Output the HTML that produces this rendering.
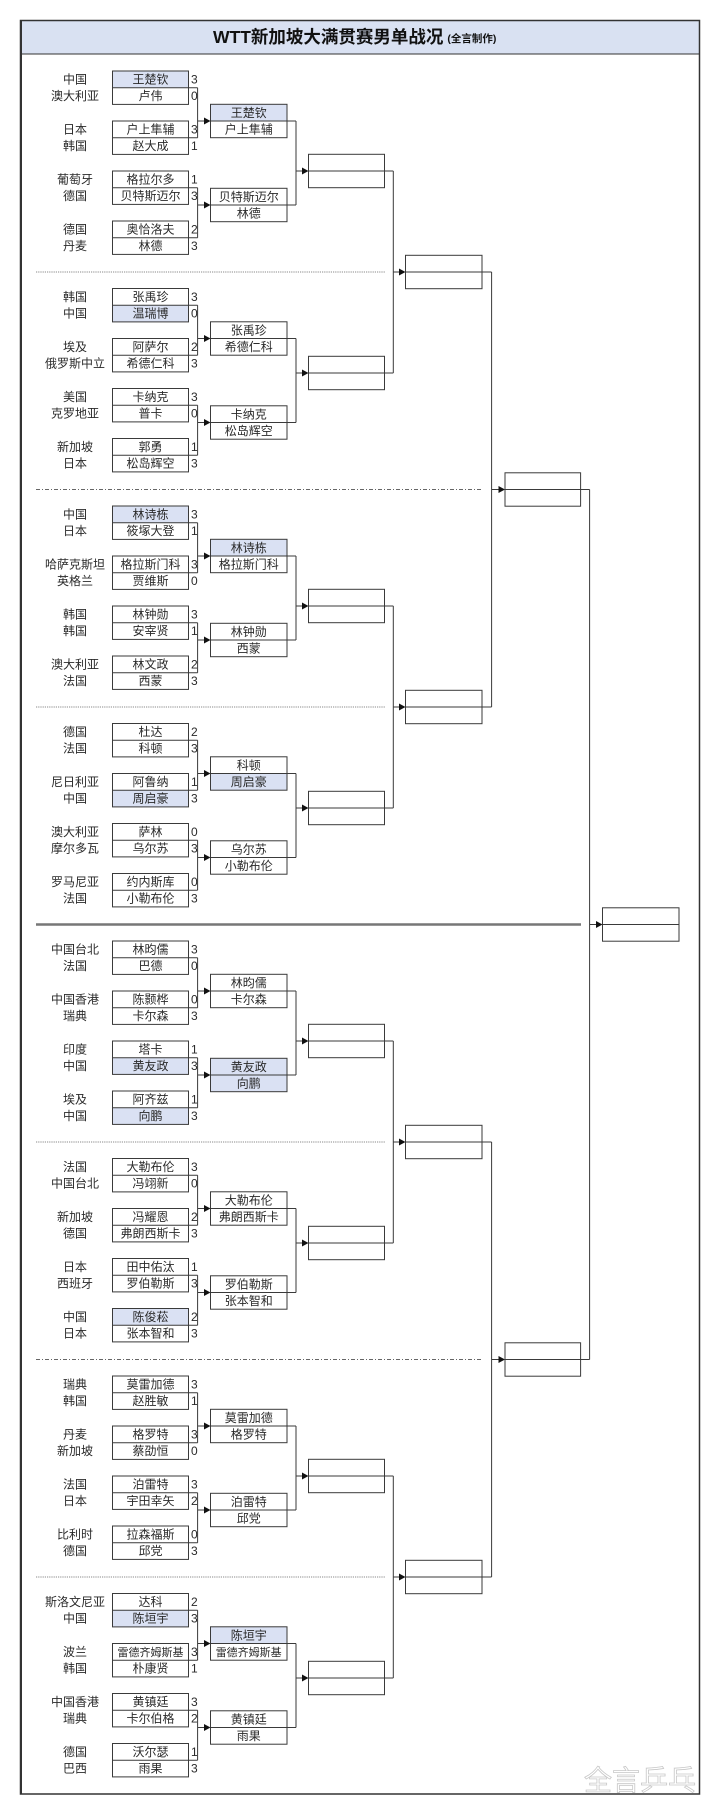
<!DOCTYPE html>
<html><head><meta charset="utf-8">
<style>
html,body{margin:0;padding:0;background:#fff;width:720px;height:1814px;overflow:hidden}
svg{display:block}
text{font-family:"Liberation Sans","Noto Sans CJK SC",sans-serif;font-size:12px;fill:#2a2a2a}
.c{text-anchor:middle}
.n{text-anchor:middle}
.s{text-anchor:start}
</style></head><body>
<svg width="720" height="1814" viewBox="0 0 720 1814" xmlns="http://www.w3.org/2000/svg">
<defs>
<g id="T">
 <g fill="none" stroke="#3a3a3a" stroke-width="1">
  <rect x="112.5" y="0" width="76" height="33.4"/>
  <rect x="112.5" y="50" width="76" height="33.4"/>
  <rect x="112.5" y="100" width="76" height="33.4"/>
  <rect x="112.5" y="150" width="76" height="33.4"/>
  <path d="M112.5 16.7H197.6M112.5 66.7H197.6M112.5 116.7H197.6M112.5 166.7H197.6M197.6 16.7V66.7M197.6 116.7V166.7M197.6 50H205M197.6 134H205"/>
  <rect x="210.5" y="33.3" width="76.5" height="33.4"/>
  <rect x="210.5" y="117.3" width="76.5" height="33.4"/>
  <path d="M210.5 50H296M210.5 134H296M296 50V134"/>
 </g>
 <polygon fill="#111" points="204,46.5 210.5,50 204,53.5"/>
 <polygon fill="#111" points="204,130.5 210.5,134 204,137.5"/>
</g>
<g id="RA">
 <g fill="none" stroke="#3a3a3a" stroke-width="1">
  <path d="M296 100H303M308.5 100H393.3"/>
  <rect x="308.5" y="83.3" width="76" height="33.4"/>
 </g>
 <polygon fill="#111" points="302,96.5 308.5,100 302,103.5"/>
</g>
<g id="RB">
 <g fill="none" stroke="#3a3a3a" stroke-width="1">
  <path d="M296 84.5H303M308.5 84.5H393.3"/>
  <rect x="308.5" y="67.8" width="76" height="33.4"/>
 </g>
 <polygon fill="#111" points="302,81 308.5,84.5 302,88"/>
</g>
</defs>

<rect x="20" y="20" width="680" height="34" fill="#d9e1f2"/>
<rect x="20.5" y="20.5" width="679" height="1773.5" fill="none" stroke="#333" stroke-width="1.5"/>
<line x1="20" y1="54" x2="700" y2="54" stroke="#333" stroke-width="1"/>
<line x1="21" y1="20" x2="21" y2="1794" stroke="#333" stroke-width="2"/>
<text x="213" y="43" style="font-size:17.5px;font-weight:bold;fill:#111">WTT新加坡大满贯赛男单战况<tspan style="font-size:10.5px;font-weight:bold" dx="4" dy="-1">(全言制作)</tspan></text>

<g fill="none">
<line x1="36" y1="272" x2="385" y2="272" stroke="#888" stroke-dasharray="1.2,1"/>
<line x1="36" y1="489.5" x2="483" y2="489.5" stroke="#666" stroke-dasharray="4,2,1,2"/>
<line x1="36" y1="707" x2="385" y2="707" stroke="#888" stroke-dasharray="1.2,1"/>
<line x1="36" y1="924.5" x2="581" y2="924.5" stroke="#777" stroke-width="2.5"/>
<line x1="36" y1="1142" x2="385" y2="1142" stroke="#888" stroke-dasharray="1.2,1"/>
<line x1="36" y1="1359.5" x2="483" y2="1359.5" stroke="#666" stroke-dasharray="4,2,1,2"/>
<line x1="36" y1="1577" x2="385" y2="1577" stroke="#888" stroke-dasharray="1.2,1"/>
</g>

<g fill="#dae1f3">
<rect x="112.5" y="71" width="76" height="16.7"/><rect x="210.5" y="104.3" width="76.5" height="16.7"/>
<rect x="112.5" y="305.2" width="76" height="16.7"/>
<rect x="112.5" y="506" width="76" height="16.7"/><rect x="210.5" y="539.3" width="76.5" height="16.7"/>
<rect x="112.5" y="790.2" width="76" height="16.7"/><rect x="210.5" y="773.5" width="76.5" height="16.7"/>
<rect x="112.5" y="1057.7" width="76" height="16.7"/><rect x="112.5" y="1107.7" width="76" height="16.7"/><rect x="210.5" y="1058.3" width="76.5" height="33.4"/>
<rect x="112.5" y="1308.5" width="76" height="16.7"/>
<rect x="112.5" y="1610.2" width="76" height="16.7"/><rect x="210.5" y="1626.8" width="76.5" height="16.7"/>
</g>

<use href="#T" transform="translate(0,71)"/><use href="#RA" transform="translate(0,71)"/>
<use href="#T" transform="translate(0,288.5)"/><use href="#RB" transform="translate(0,288.5)"/>
<use href="#T" transform="translate(0,506)"/><use href="#RA" transform="translate(0,506)"/>
<use href="#T" transform="translate(0,723.5)"/><use href="#RB" transform="translate(0,723.5)"/>
<use href="#T" transform="translate(0,941)"/><use href="#RA" transform="translate(0,941)"/>
<use href="#T" transform="translate(0,1158.5)"/><use href="#RB" transform="translate(0,1158.5)"/>
<use href="#T" transform="translate(0,1376)"/><use href="#RA" transform="translate(0,1376)"/>
<use href="#T" transform="translate(0,1593.5)"/><use href="#RB" transform="translate(0,1593.5)"/>

<g fill="none" stroke="#3a3a3a" stroke-width="1">
 <path d="M393.3 171V373M393.3 272H399M393.3 606V808M393.3 707H399M393.3 1041V1243M393.3 1142H399M393.3 1476V1678M393.3 1577H399"/>
 <rect x="405.5" y="255.3" width="76.5" height="33.4"/>
 <rect x="405.5" y="690.3" width="76.5" height="33.4"/>
 <rect x="405.5" y="1125.3" width="76.5" height="33.4"/>
 <rect x="405.5" y="1560.3" width="76.5" height="33.4"/>
 <path d="M405.5 272H491.6M405.5 707H491.6M405.5 1142H491.6M405.5 1577H491.6M491.6 272V707M491.6 1142V1577M491.6 489.5H499M491.6 1359.5H499"/>
 <rect x="505" y="472.8" width="75.6" height="33.4"/>
 <rect x="505" y="1342.8" width="75.6" height="33.4"/>
 <path d="M505 489.5H589.6M505 1359.5H589.6M589.6 489.5V1359.5M589.6 924.5H596"/>
 <rect x="602.5" y="907.8" width="76.5" height="33.4"/>
 <path d="M602.5 924.5H679"/>
</g>
<g fill="#111">
 <polygon points="399,268.5 405.5,272 399,275.5"/>
 <polygon points="399,703.5 405.5,707 399,710.5"/>
 <polygon points="399,1138.5 405.5,1142 399,1145.5"/>
 <polygon points="399,1573.5 405.5,1577 399,1580.5"/>
 <polygon points="498.5,486 505,489.5 498.5,493"/>
 <polygon points="498.5,1356 505,1359.5 498.5,1363"/>
 <polygon points="596,921 602.5,924.5 596,928"/>
</g>

<g transform="translate(0,71)">
<text class="c" x="75" y="12.5">中国</text><text class="c" x="75" y="29.2">澳大利亚</text><text class="c" x="75" y="62.5">日本</text><text class="c" x="75" y="79.2">韩国</text><text class="c" x="75" y="112.5">葡萄牙</text><text class="c" x="75" y="129.2">德国</text><text class="c" x="75" y="162.5">德国</text><text class="c" x="75" y="179.2">丹麦</text>
<text class="n" x="150.5" y="12.5">王楚钦</text><text class="n" x="150.5" y="29.2">卢伟</text><text class="n" x="150.5" y="62.5">户上隼辅</text><text class="n" x="150.5" y="79.2">赵大成</text><text class="n" x="150.5" y="112.5">格拉尔多</text><text class="n" x="150.5" y="129.2">贝特斯迈尔</text><text class="n" x="150.5" y="162.5">奥恰洛夫</text><text class="n" x="150.5" y="179.2">林德</text>
<text class="s" x="191" y="12.5">3</text><text class="s" x="191" y="29.2">0</text><text class="s" x="191" y="62.5">3</text><text class="s" x="191" y="79.2">1</text><text class="s" x="191" y="112.5">1</text><text class="s" x="191" y="129.2">3</text><text class="s" x="191" y="162.5">2</text><text class="s" x="191" y="179.2">3</text>
<text class="n" x="248.7" y="45.8">王楚钦</text><text class="n" x="248.7" y="62.5">户上隼辅</text><text class="n" x="248.7" y="129.8">贝特斯迈尔</text><text class="n" x="248.7" y="146.5">林德</text>
</g>
<g transform="translate(0,288.5)">
<text class="c" x="75" y="12.5">韩国</text><text class="c" x="75" y="29.2">中国</text><text class="c" x="75" y="62.5">埃及</text><text class="c" x="75" y="79.2">俄罗斯中立</text><text class="c" x="75" y="112.5">美国</text><text class="c" x="75" y="129.2">克罗地亚</text><text class="c" x="75" y="162.5">新加坡</text><text class="c" x="75" y="179.2">日本</text>
<text class="n" x="150.5" y="12.5">张禹珍</text><text class="n" x="150.5" y="29.2">温瑞博</text><text class="n" x="150.5" y="62.5">阿萨尔</text><text class="n" x="150.5" y="79.2">希德仁科</text><text class="n" x="150.5" y="112.5">卡纳克</text><text class="n" x="150.5" y="129.2">普卡</text><text class="n" x="150.5" y="162.5">郭勇</text><text class="n" x="150.5" y="179.2">松岛辉空</text>
<text class="s" x="191" y="12.5">3</text><text class="s" x="191" y="29.2">0</text><text class="s" x="191" y="62.5">2</text><text class="s" x="191" y="79.2">3</text><text class="s" x="191" y="112.5">3</text><text class="s" x="191" y="129.2">0</text><text class="s" x="191" y="162.5">1</text><text class="s" x="191" y="179.2">3</text>
<text class="n" x="248.7" y="45.8">张禹珍</text><text class="n" x="248.7" y="62.5">希德仁科</text><text class="n" x="248.7" y="129.8">卡纳克</text><text class="n" x="248.7" y="146.5">松岛辉空</text>
</g>
<g transform="translate(0,506)">
<text class="c" x="75" y="12.5">中国</text><text class="c" x="75" y="29.2">日本</text><text class="c" x="75" y="62.5">哈萨克斯坦</text><text class="c" x="75" y="79.2">英格兰</text><text class="c" x="75" y="112.5">韩国</text><text class="c" x="75" y="129.2">韩国</text><text class="c" x="75" y="162.5">澳大利亚</text><text class="c" x="75" y="179.2">法国</text>
<text class="n" x="150.5" y="12.5">林诗栋</text><text class="n" x="150.5" y="29.2">筱塚大登</text><text class="n" x="150.5" y="62.5">格拉斯门科</text><text class="n" x="150.5" y="79.2">贾维斯</text><text class="n" x="150.5" y="112.5">林钟勋</text><text class="n" x="150.5" y="129.2">安宰贤</text><text class="n" x="150.5" y="162.5">林文政</text><text class="n" x="150.5" y="179.2">西蒙</text>
<text class="s" x="191" y="12.5">3</text><text class="s" x="191" y="29.2">1</text><text class="s" x="191" y="62.5">3</text><text class="s" x="191" y="79.2">0</text><text class="s" x="191" y="112.5">3</text><text class="s" x="191" y="129.2">1</text><text class="s" x="191" y="162.5">2</text><text class="s" x="191" y="179.2">3</text>
<text class="n" x="248.7" y="45.8">林诗栋</text><text class="n" x="248.7" y="62.5">格拉斯门科</text><text class="n" x="248.7" y="129.8">林钟勋</text><text class="n" x="248.7" y="146.5">西蒙</text>
</g>
<g transform="translate(0,723.5)">
<text class="c" x="75" y="12.5">德国</text><text class="c" x="75" y="29.2">法国</text><text class="c" x="75" y="62.5">尼日利亚</text><text class="c" x="75" y="79.2">中国</text><text class="c" x="75" y="112.5">澳大利亚</text><text class="c" x="75" y="129.2">摩尔多瓦</text><text class="c" x="75" y="162.5">罗马尼亚</text><text class="c" x="75" y="179.2">法国</text>
<text class="n" x="150.5" y="12.5">杜达</text><text class="n" x="150.5" y="29.2">科顿</text><text class="n" x="150.5" y="62.5">阿鲁纳</text><text class="n" x="150.5" y="79.2">周启豪</text><text class="n" x="150.5" y="112.5">萨林</text><text class="n" x="150.5" y="129.2">乌尔苏</text><text class="n" x="150.5" y="162.5">约内斯库</text><text class="n" x="150.5" y="179.2">小勒布伦</text>
<text class="s" x="191" y="12.5">2</text><text class="s" x="191" y="29.2">3</text><text class="s" x="191" y="62.5">1</text><text class="s" x="191" y="79.2">3</text><text class="s" x="191" y="112.5">0</text><text class="s" x="191" y="129.2">3</text><text class="s" x="191" y="162.5">0</text><text class="s" x="191" y="179.2">3</text>
<text class="n" x="248.7" y="45.8">科顿</text><text class="n" x="248.7" y="62.5">周启豪</text><text class="n" x="248.7" y="129.8">乌尔苏</text><text class="n" x="248.7" y="146.5">小勒布伦</text>
</g>
<g transform="translate(0,941)">
<text class="c" x="75" y="12.5">中国台北</text><text class="c" x="75" y="29.2">法国</text><text class="c" x="75" y="62.5">中国香港</text><text class="c" x="75" y="79.2">瑞典</text><text class="c" x="75" y="112.5">印度</text><text class="c" x="75" y="129.2">中国</text><text class="c" x="75" y="162.5">埃及</text><text class="c" x="75" y="179.2">中国</text>
<text class="n" x="150.5" y="12.5">林昀儒</text><text class="n" x="150.5" y="29.2">巴德</text><text class="n" x="150.5" y="62.5">陈颢桦</text><text class="n" x="150.5" y="79.2">卡尔森</text><text class="n" x="150.5" y="112.5">塔卡</text><text class="n" x="150.5" y="129.2">黄友政</text><text class="n" x="150.5" y="162.5">阿齐兹</text><text class="n" x="150.5" y="179.2">向鹏</text>
<text class="s" x="191" y="12.5">3</text><text class="s" x="191" y="29.2">0</text><text class="s" x="191" y="62.5">0</text><text class="s" x="191" y="79.2">3</text><text class="s" x="191" y="112.5">1</text><text class="s" x="191" y="129.2">3</text><text class="s" x="191" y="162.5">1</text><text class="s" x="191" y="179.2">3</text>
<text class="n" x="248.7" y="45.8">林昀儒</text><text class="n" x="248.7" y="62.5">卡尔森</text><text class="n" x="248.7" y="129.8">黄友政</text><text class="n" x="248.7" y="146.5">向鹏</text>
</g>
<g transform="translate(0,1158.5)">
<text class="c" x="75" y="12.5">法国</text><text class="c" x="75" y="29.2">中国台北</text><text class="c" x="75" y="62.5">新加坡</text><text class="c" x="75" y="79.2">德国</text><text class="c" x="75" y="112.5">日本</text><text class="c" x="75" y="129.2">西班牙</text><text class="c" x="75" y="162.5">中国</text><text class="c" x="75" y="179.2">日本</text>
<text class="n" x="150.5" y="12.5">大勒布伦</text><text class="n" x="150.5" y="29.2">冯翊新</text><text class="n" x="150.5" y="62.5">冯耀恩</text><text class="n" x="150.5" y="79.2">弗朗西斯卡</text><text class="n" x="150.5" y="112.5">田中佑汰</text><text class="n" x="150.5" y="129.2">罗伯勒斯</text><text class="n" x="150.5" y="162.5">陈俊菘</text><text class="n" x="150.5" y="179.2">张本智和</text>
<text class="s" x="191" y="12.5">3</text><text class="s" x="191" y="29.2">0</text><text class="s" x="191" y="62.5">2</text><text class="s" x="191" y="79.2">3</text><text class="s" x="191" y="112.5">1</text><text class="s" x="191" y="129.2">3</text><text class="s" x="191" y="162.5">2</text><text class="s" x="191" y="179.2">3</text>
<text class="n" x="248.7" y="45.8">大勒布伦</text><text class="n" x="248.7" y="62.5">弗朗西斯卡</text><text class="n" x="248.7" y="129.8">罗伯勒斯</text><text class="n" x="248.7" y="146.5">张本智和</text>
</g>
<g transform="translate(0,1376)">
<text class="c" x="75" y="12.5">瑞典</text><text class="c" x="75" y="29.2">韩国</text><text class="c" x="75" y="62.5">丹麦</text><text class="c" x="75" y="79.2">新加坡</text><text class="c" x="75" y="112.5">法国</text><text class="c" x="75" y="129.2">日本</text><text class="c" x="75" y="162.5">比利时</text><text class="c" x="75" y="179.2">德国</text>
<text class="n" x="150.5" y="12.5">莫雷加德</text><text class="n" x="150.5" y="29.2">赵胜敏</text><text class="n" x="150.5" y="62.5">格罗特</text><text class="n" x="150.5" y="79.2">蔡劭恒</text><text class="n" x="150.5" y="112.5">泊雷特</text><text class="n" x="150.5" y="129.2">宇田幸矢</text><text class="n" x="150.5" y="162.5">拉森福斯</text><text class="n" x="150.5" y="179.2">邱党</text>
<text class="s" x="191" y="12.5">3</text><text class="s" x="191" y="29.2">1</text><text class="s" x="191" y="62.5">3</text><text class="s" x="191" y="79.2">0</text><text class="s" x="191" y="112.5">3</text><text class="s" x="191" y="129.2">2</text><text class="s" x="191" y="162.5">0</text><text class="s" x="191" y="179.2">3</text>
<text class="n" x="248.7" y="45.8">莫雷加德</text><text class="n" x="248.7" y="62.5">格罗特</text><text class="n" x="248.7" y="129.8">泊雷特</text><text class="n" x="248.7" y="146.5">邱党</text>
</g>
<g transform="translate(0,1593.5)">
<text class="c" x="75" y="12.5">斯洛文尼亚</text><text class="c" x="75" y="29.2">中国</text><text class="c" x="75" y="62.5">波兰</text><text class="c" x="75" y="79.2">韩国</text><text class="c" x="75" y="112.5">中国香港</text><text class="c" x="75" y="129.2">瑞典</text><text class="c" x="75" y="162.5">德国</text><text class="c" x="75" y="179.2">巴西</text>
<text class="n" x="150.5" y="12.5">达科</text><text class="n" x="150.5" y="29.2">陈垣宇</text><text class="n" x="150.5" y="62.5" style="font-size:11px">雷德齐姆斯基</text><text class="n" x="150.5" y="79.2">朴康贤</text><text class="n" x="150.5" y="112.5">黄镇廷</text><text class="n" x="150.5" y="129.2">卡尔伯格</text><text class="n" x="150.5" y="162.5">沃尔瑟</text><text class="n" x="150.5" y="179.2">雨果</text>
<text class="s" x="191" y="12.5">2</text><text class="s" x="191" y="29.2">3</text><text class="s" x="191" y="62.5">3</text><text class="s" x="191" y="79.2">1</text><text class="s" x="191" y="112.5">3</text><text class="s" x="191" y="129.2">2</text><text class="s" x="191" y="162.5">1</text><text class="s" x="191" y="179.2">3</text>
<text class="n" x="248.7" y="45.8">陈垣宇</text><text class="n" x="248.7" y="62.5" style="font-size:11px">雷德齐姆斯基</text><text class="n" x="248.7" y="129.8">黄镇廷</text><text class="n" x="248.7" y="146.5">雨果</text>
</g>

<text x="584" y="1790" style="font-size:28px;fill:#fff;stroke:#c8c8c8;stroke-width:0.8">全言乒乓</text>
</svg>
</body></html>
